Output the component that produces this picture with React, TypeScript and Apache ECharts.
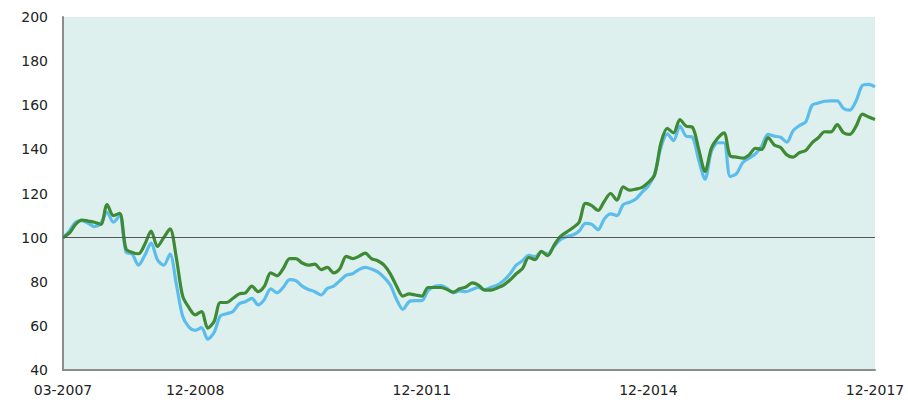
import React, { useEffect, useRef } from "react";
import * as echarts from "echarts";

const startYear = 2007;
const startMonth = 3;
const monthCount = 130;
const categories: string[] = Array.from({ length: monthCount }, (_, i) => {
  const m = ((startMonth - 1 + i) % 12) + 1;
  const y = startYear + Math.floor((startMonth - 1 + i) / 12);
  return (m < 10 ? "0" + m : "" + m) + "-" + y;
});

const shownLabels = ["03-2007", "12-2008", "12-2011", "12-2014", "12-2017"];

const yTicks = { min: 40, max: 200, interval: 20 };
const baseline = 100;

const greenSeries = [
  100, 102, 106, 108, 107.5, 107, 106, 115, 110, 111,
  95, 93.3, 92.7, 97, 103, 96, 100, 104, 91, 73.6,
  68.3, 65, 66.5, 59, 62, 70.6, 70.6, 72.5, 74.5, 75,
  78, 75.5, 78, 84, 82.7, 86, 90.5, 90.5, 88.5, 87.5,
  88, 85.5, 86.5, 84, 86, 91.5, 90.5, 91.5, 93, 90.5,
  89.5, 87.5, 83.6, 78, 73.5, 74.5, 74, 73.5, 77.4, 77.4,
  77.4, 76.5, 75.3, 76.8, 77.6, 79.5, 78.5, 76.2, 76.2, 77.2,
  78.5, 80.8, 83.6, 86, 91, 90, 93.8, 91.8, 96.5, 100.5,
  102.5, 104.5, 107, 115.5, 114.5, 112.3, 116.5, 120, 117, 123,
  121.5, 122, 122.8, 125, 128.5, 143, 149.5, 147.5, 153.5, 150.5,
  150, 140, 130, 140.5, 145, 147.5, 137, 136.5, 136, 137.5,
  140.5, 140, 145.3, 142, 140.8, 137.5, 136.5, 138.5, 139.5, 143,
  145.3, 148, 147.9, 151.2, 147.5, 146.8, 150.5, 156, 154.7, 153.5,
];

const blueSeries = [
  100, 103, 107, 107.7, 106.5, 105, 106.5, 111.5, 107, 110,
  93.5, 92.5, 87.5, 92, 97.5, 90, 87.5, 92.5, 79, 64.5,
  59.5, 58, 59.2, 54, 57, 64.5, 65.5, 66.5, 70, 71,
  72.5, 69.5, 72, 76.8, 75, 77.5, 81, 80.5, 78, 76.5,
  75.5, 74, 77, 78, 80.5, 83, 83.6, 85.5, 86.5, 85.8,
  84.5, 82, 78.5, 72, 67.5, 71, 71.4, 71.4, 76, 77.8,
  78.2, 77, 75, 75.8, 75.5, 76.5, 77.4, 76.4, 77.5, 78.5,
  80.5, 83.5, 87.5, 89.5, 92, 91.4, 93.5, 92.7, 96, 99,
  100.5, 101.2, 103, 106.5, 106, 103.6, 108.5, 110.8, 110, 115,
  116, 117.5, 120.6, 123.5, 129, 141, 147, 144, 150.5, 146,
  145.5, 135, 126.5, 139, 143, 143, 127.7, 129, 134, 136,
  138, 141.5, 146.8, 146, 145.5, 143.3, 148.5, 150.8, 152.5, 160,
  161, 161.8, 162, 162, 158.5, 157.8, 162, 169, 169.5, 168.3,
];

export default function App() {
  const ref = useRef<HTMLDivElement>(null);

  useEffect(() => {
    document.body.style.margin = "0";
    if (!ref.current) return;
    const chart = echarts.init(ref.current, undefined, { renderer: "svg" });
    const labelFont = {
      fontFamily: "DejaVu Sans",
      fontSize: 14,
      color: "#222222",
    };
    chart.setOption({
      animation: false,
      backgroundColor: "#ffffff",
      grid: {
        left: 63,
        right: 33,
        top: 17,
        bottom: 30,
        show: true,
        backgroundColor: "#ddf0ed",
        borderWidth: 0,
      },
      xAxis: {
        type: "category",
        data: categories,
        boundaryGap: false,
        axisLine: { show: true, lineStyle: { color: "#8c8c8c", width: 2 } },
        axisTick: { show: false },
        splitLine: { show: false },
        axisLabel: {
          ...labelFont,
          margin: 13,
          interval: (_idx: number, val: string) => shownLabels.indexOf(val) >= 0,
        },
      },
      yAxis: {
        type: "value",
        min: yTicks.min,
        max: yTicks.max,
        interval: yTicks.interval,
        axisLine: { show: true, lineStyle: { color: "#8c8c8c", width: 2 } },
        axisTick: { show: false },
        splitLine: { show: false },
        axisLabel: { ...labelFont, margin: 15 },
      },
      series: [
        {
          type: "line",
          data: blueSeries,
          showSymbol: false,
          symbol: "none",
          smooth: 0.3,
          lineStyle: { color: "#5cbdec", width: 3.2 },
          markLine: {
            silent: true,
            symbol: "none",
            label: { show: false },
            lineStyle: { color: "#555555", width: 1, type: "solid" },
            data: [{ yAxis: baseline }],
          },
        },
        {
          type: "line",
          data: greenSeries,
          showSymbol: false,
          symbol: "none",
          smooth: 0.3,
          lineStyle: { color: "#3f8a35", width: 3.2 },
        },
      ],
    });
    return () => chart.dispose();
  }, []);

  return <div ref={ref} style={{ width: 908, height: 400 }} />;
}
